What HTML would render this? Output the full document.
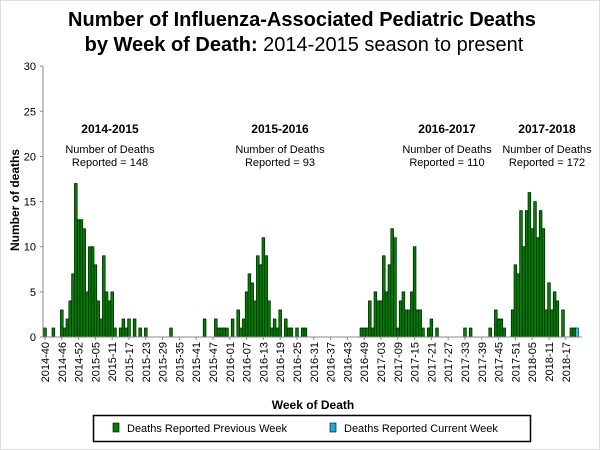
<!DOCTYPE html>
<html><head><meta charset="utf-8"><style>
html,body{margin:0;padding:0;background:#fff;}
svg{display:block;font-family:"Liberation Sans",Arial,sans-serif;}
</style></head><body>
<svg id="c" width="600" height="450" viewBox="0 0 600 450" xmlns="http://www.w3.org/2000/svg">
<rect x="0.5" y="0.5" width="599" height="449" fill="#fff" stroke="#bbb" stroke-dasharray="1,1"/>
<text x="302" y="26" text-anchor="middle" font-size="20" font-weight="bold">Number of Influenza-Associated Pediatric Deaths</text>
<text x="304" y="51" text-anchor="middle" font-size="20"><tspan font-weight="bold">by Week of Death:</tspan> 2014-2015 season to present</text>
<text transform="translate(19,200) rotate(-90)" text-anchor="middle" font-size="12" font-weight="bold">Number of deaths</text>
<text x="313" y="409" text-anchor="middle" font-size="12" font-weight="bold">Week of Death</text>
<g font-size="11" text-anchor="middle">
<text x="110" y="133" font-weight="bold" font-size="12">2014-2015</text><text x="110" y="153">Number of Deaths</text><text x="110" y="166">Reported = 148</text>
<text x="280" y="133" font-weight="bold" font-size="12">2015-2016</text><text x="280" y="153">Number of Deaths</text><text x="280" y="166">Reported = 93</text>
<text x="447" y="133" font-weight="bold" font-size="12">2016-2017</text><text x="447" y="153">Number of Deaths</text><text x="447" y="166">Reported = 110</text>
<text x="547" y="133" font-weight="bold" font-size="12">2017-2018</text><text x="547" y="153">Number of Deaths</text><text x="547" y="166">Reported = 172</text>
</g>
<rect x="93.5" y="415.5" width="437" height="26" fill="none" stroke="#000" stroke-width="1.5"/>
<rect x="113" y="423" width="6" height="9" fill="#008000" stroke="#000" stroke-width="0.6"/>
<text x="127" y="432" font-size="11">Deaths Reported Previous Week</text>
<rect x="330" y="423" width="6" height="9" fill="#1ea7e1" stroke="#000" stroke-width="0.6"/>
<text x="344" y="432" font-size="11">Deaths Reported Current Week</text>
<g id="g"></g>
</svg>
<script>
var d={0:1,3:1,6:3,7:1,8:2,9:4,10:7,11:17,12:13,13:13,14:12,15:5,16:10,17:10,18:8,19:4,20:2,21:9,22:5,23:4,24:5,25:1,27:1,28:2,29:1,30:2,32:2,34:1,36:1,45:1,57:2,
61:2,62:1,63:1,64:1,65:1,67:2,69:3,70:1,71:2,72:5,73:7,74:6,75:4,76:9,77:8,78:11,79:9,80:4,81:1,82:2,83:1,84:3,86:2,87:1,88:1,90:1,92:1,93:1,
113:1,114:1,115:1,116:4,117:1,118:5,119:4,120:4,121:9,122:5,123:8,124:12,125:11,126:1,127:4,128:5,129:3,130:3,131:5,132:10,133:3,134:3,135:1,137:1,138:2,140:1,150:1,152:1,159:1,
161:3,162:2,163:2,164:1,167:3,168:8,169:7,170:14,171:10,172:14,173:16,174:12,175:15,176:11,177:14,178:12,179:3,180:6,181:3,182:5,183:4,185:3,188:1,189:1,190:1};
var labs=["2014-40","2014-46","2014-52","2015-05","2015-11","2015-17","2015-23","2015-29","2015-35","2015-41","2015-47","2016-01","2016-07","2016-13","2016-19","2016-25","2016-31","2016-37","2016-43","2016-49","2017-03","2017-09","2017-15","2017-21","2017-27","2017-33","2017-39","2017-45","2017-51","2018-05","2018-11","2018-17"];
var s='',B=337,U=9.03,X0=43.6,W=2.8;
for(var i=0;i<=30;i+=5){var y=B-i*U;s+='<line x1="40" x2="43" y1="'+y+'" y2="'+y+'" stroke="#888"/><text x="36" y="'+(y+4)+'" text-anchor="end" font-size="11">'+i+'</text>';}
for(var k in d){var v=d[k],x=X0+k*W;s+='<rect x="'+x+'" y="'+(B-v*U)+'" width="'+W+'" height="'+(v*U)+'" fill="'+(k==190?'#1ec8e8':'#008000')+'" stroke="#000" stroke-width="0.6"/>';}
for(var j=0;j<labs.length;j++){var cx=X0+j*6*W+W/2;s+='<line x1="'+cx+'" x2="'+cx+'" y1="'+B+'" y2="'+(B+3)+'" stroke="#888"/><text transform="translate('+(cx+4)+',342) rotate(-90)" text-anchor="end" font-size="11">'+labs[j]+'</text>';}
s+='<line x1="43" x2="43" y1="66" y2="337" stroke="#888"/><line x1="43" x2="582" y1="337" y2="337" stroke="#888"/>';
document.getElementById('g').innerHTML=s;
</script>
</body></html>
